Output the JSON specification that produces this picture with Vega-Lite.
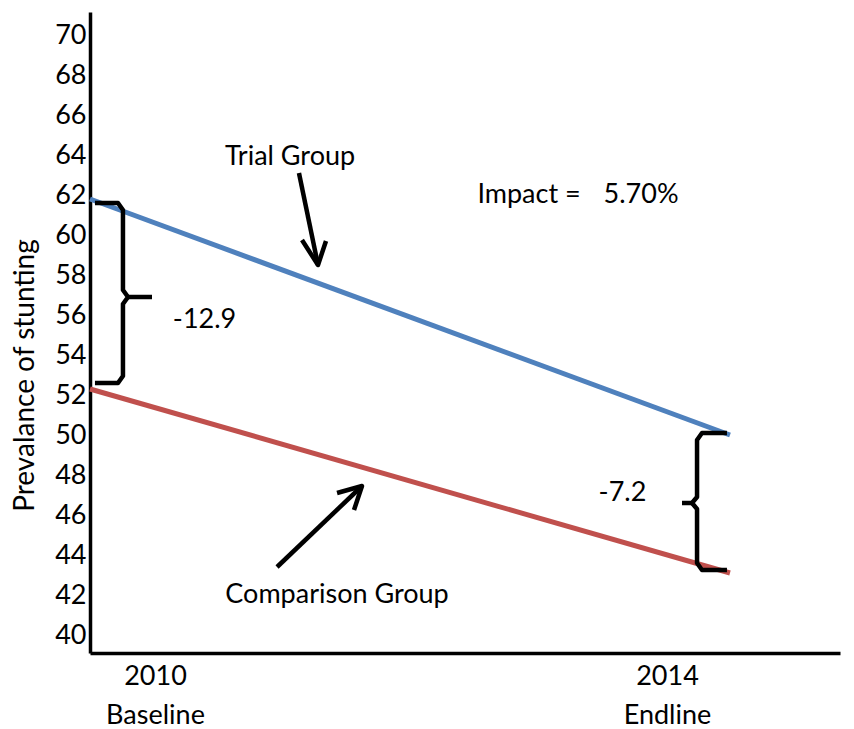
{
  "$schema": "https://vega.github.io/schema/vega-lite/v6.json",
  "width": 750,
  "height": 641,
  "autosize": {"type": "none"},
  "padding": {"left": 90, "top": 12, "right": 14, "bottom": 76},
  "background": "white",
  "config": {
    "view": {"stroke": null},
    "font": "Lato",
    "axis": {"labelFont": "Lato", "titleFont": "Lato", "labelColor": "black", "titleColor": "black", "domainColor": "black", "domainWidth": 3.5, "grid": false, "ticks": false, "labelFontWeight": "normal", "titleFontWeight": "normal"}
  },
  "datasets": {
    "series": [
      {"group": "Trial Group", "year": 2010, "value": 61.8},
      {"group": "Trial Group", "year": 2014, "value": 50.0},
      {"group": "Comparison Group", "year": 2010, "value": 52.3},
      {"group": "Comparison Group", "year": 2014, "value": 43.1}
    ],
    "shapes": [
      {"seg": "lb1", "ord": 1, "year": 2010.031, "value": 61.6},
      {"seg": "lb1", "ord": 2, "year": 2010.175, "value": 61.6},
      {"seg": "lb1", "ord": 3, "year": 2010.206, "value": 61.25},
      {"seg": "lb1", "ord": 4, "year": 2010.206, "value": 57.25},
      {"seg": "lb1", "ord": 5, "year": 2010.2375, "value": 56.9},
      {"seg": "lb1", "ord": 6, "year": 2010.206, "value": 56.55},
      {"seg": "lb1", "ord": 7, "year": 2010.206, "value": 52.95},
      {"seg": "lb1", "ord": 8, "year": 2010.175, "value": 52.6},
      {"seg": "lb1", "ord": 9, "year": 2010.031, "value": 52.6},
      {"seg": "lb2", "ord": 1, "year": 2010.2375, "value": 56.9},
      {"seg": "lb2", "ord": 2, "year": 2010.3875, "value": 56.9},
      {"seg": "rb1", "ord": 1, "year": 2013.981, "value": 50.1},
      {"seg": "rb1", "ord": 2, "year": 2013.825, "value": 50.1},
      {"seg": "rb1", "ord": 3, "year": 2013.794, "value": 49.75},
      {"seg": "rb1", "ord": 4, "year": 2013.794, "value": 46.9},
      {"seg": "rb1", "ord": 5, "year": 2013.7625, "value": 46.6},
      {"seg": "rb1", "ord": 6, "year": 2013.794, "value": 46.3},
      {"seg": "rb1", "ord": 7, "year": 2013.794, "value": 43.6},
      {"seg": "rb1", "ord": 8, "year": 2013.825, "value": 43.25},
      {"seg": "rb1", "ord": 9, "year": 2013.981, "value": 43.25},
      {"seg": "rb2", "ord": 1, "year": 2013.7625, "value": 46.6},
      {"seg": "rb2", "ord": 2, "year": 2013.7, "value": 46.6},
      {"seg": "ta1", "ord": 1, "year": 2011.306, "value": 63.1},
      {"seg": "ta1", "ord": 2, "year": 2011.425, "value": 58.5},
      {"seg": "ta2", "ord": 1, "year": 2011.325, "value": 59.75},
      {"seg": "ta2", "ord": 2, "year": 2011.425, "value": 58.5},
      {"seg": "ta2", "ord": 3, "year": 2011.475, "value": 59.7},
      {"seg": "ca1", "ord": 1, "year": 2011.169, "value": 43.4},
      {"seg": "ca1", "ord": 2, "year": 2011.7, "value": 47.45},
      {"seg": "ca2", "ord": 1, "year": 2011.544, "value": 47.1},
      {"seg": "ca2", "ord": 2, "year": 2011.7, "value": 47.45},
      {"seg": "ca2", "ord": 3, "year": 2011.65, "value": 46.25}
    ],
    "labels": [
      {"text": "Trial Group", "year": 2011.25, "value": 63.9},
      {"text": "Comparison Group", "year": 2011.544, "value": 42.0},
      {"text": "Impact =", "year": 2012.744, "value": 62.0},
      {"text": "5.70%", "year": 2013.444, "value": 62.0},
      {"text": "-12.9", "year": 2010.716, "value": 55.75},
      {"text": "-7.2", "year": 2013.328, "value": 47.1}
    ]
  },
  "layer": [
    {
      "data": {"name": "series"},
      "mark": {"type": "line", "strokeWidth": 5, "strokeCap": "butt"},
      "encoding": {
        "x": {"field": "year", "type": "quantitative", "scale": {"domain": [2010, 2014.6875], "nice": false, "zero": false},
          "axis": {"title": null, "values": [2010, 2014], "format": "d", "labelFontSize": 27, "labelPadding": 10, "labelLineHeight": 39,
            "labelExpr": "[datum.label, datum.value == 2010 ? 'Baseline' : 'Endline']",
            "labelFlush": false, "labelOverlap": false,
            "labelOffset": {"condition": {"test": "datum.value == 2010", "value": 65}, "value": -63}}},
        "y": {"field": "value", "type": "quantitative", "scale": {"domain": [39.1, 71.15], "nice": false, "zero": false},
          "axis": {"title": "Prevalance of stunting", "values": [40, 42, 44, 46, 48, 50, 52, 54, 56, 58, 60, 62, 64, 66, 68, 70],
            "labelFontSize": 27, "labelPadding": 4, "titleFontSize": 28, "labelOverlap": false, "labelFlush": false,
            "titleX": -65, "titleY": 363, "titleBaseline": "middle", "titleAlign": "center", "titleAngle": -90}},
        "color": {"field": "group", "type": "nominal", "scale": {"domain": ["Trial Group", "Comparison Group"], "range": ["#4F81BD", "#C0504D"]}, "legend": null}
      }
    },
    {
      "data": {"name": "shapes"},
      "mark": {"type": "line", "color": "black", "strokeWidth": 4.5, "strokeJoin": "round", "strokeCap": "butt"},
      "encoding": {
        "x": {"field": "year", "type": "quantitative"},
        "y": {"field": "value", "type": "quantitative"},
        "detail": {"field": "seg"},
        "order": {"field": "ord"}
      }
    },
    {
      "data": {"name": "labels"},
      "mark": {"type": "text", "fontSize": 27, "font": "Lato", "color": "black", "baseline": "middle", "align": "center"},
      "encoding": {
        "x": {"field": "year", "type": "quantitative"},
        "y": {"field": "value", "type": "quantitative"},
        "text": {"field": "text"}
      }
    }
  ]
}
